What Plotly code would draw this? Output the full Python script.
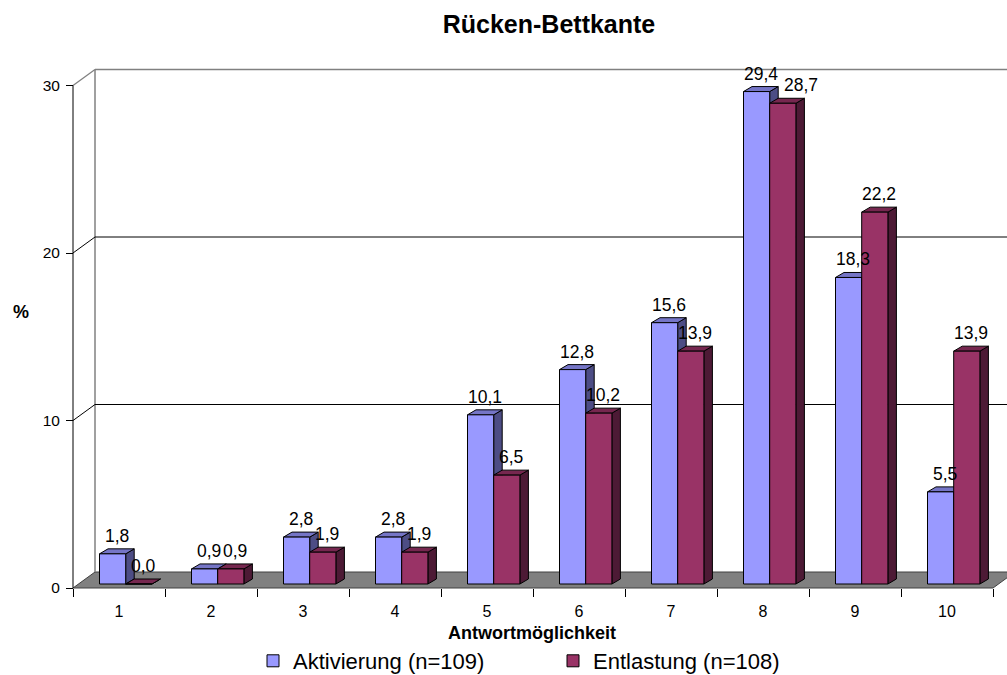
import plotly.graph_objects as go

# ---------------- data ----------------
categories = ["1", "2", "3", "4", "5", "6", "7", "8", "9", "10"]
aktivierung = [1.8, 0.9, 2.8, 2.8, 10.1, 12.8, 15.6, 29.4, 18.3, 5.5]
entlastung = [0.0, 0.9, 1.9, 1.9, 6.5, 10.2, 13.9, 28.7, 22.2, 13.9]
series_names = ["Aktivierung (n=109)", "Entlastung (n=108)"]
y_ticks = [0, 10, 20, 30]
chart_title = "Rücken-Bettkante"
x_title = "Antwortmöglichkeit"
y_title = "%"

# ---------------- styling / geometry ----------------
FONT = "Liberation Sans, Arial, sans-serif"
W, H = 1007, 675
ML, MR, MT, MB = 70, 0, 60, 79
PX_CAT = 92.0        # pixels per category
PX_UNIT = 16.75      # pixels per y unit
plot_w = W - ML - MR
plot_h = H - MT - MB
x0 = -0.5 - 3 / PX_CAT
x_range = [x0, x0 + plot_w / PX_CAT]
y_range = [-8 / PX_UNIT, -8 / PX_UNIT + plot_h / PX_UNIT]


def ux(p):
    return p / PX_CAT


def uy(p):
    return p / PX_UNIT


bar_w = ux(26.2)
offsets = [ux(-19.5), ux(-19.5) + bar_w]
base = uy(4)
ddx, ddy = ux(8.5), uy(5)
wdx, wdy = ux(22), uy(16)

front_col = ["#9999FF", "#993366"]
top_col = ["#7575C6", "#76274F"]
side_col = ["#4D4D85", "#4D1A35"]

series = [aktivierung, entlastung]

fig = go.Figure()
for k in range(2):
    fig.add_trace(go.Bar(
        x=categories, y=series[k], base=base, width=bar_w, offset=offsets[k],
        name=series_names[k],
        marker=dict(color=front_col[k], line=dict(color="black", width=1)),
        hoverinfo="skip",
    ))

shapes = []
n = len(categories)
xl_floor, xr_floor = -0.5, n - 0.5
# floor
shapes.append(dict(
    type="path", layer="below", xref="x", yref="y",
    path=f"M {xl_floor},0 L {xr_floor},0 L {xr_floor + wdx},{wdy} L {xl_floor + wdx},{wdy} Z",
    fillcolor="#808080", line=dict(color="#404040", width=1)))
# back wall edges and gridlines
xb = xl_floor + wdx
top_v = y_ticks[-1]
shapes.append(dict(type="line", layer="below", xref="x", yref="y",
                   x0=xb, y0=wdy, x1=xb, y1=top_v + wdy,
                   line=dict(color="#808080", width=1.5)))
shapes.append(dict(type="line", layer="below", xref="x", yref="y",
                   x0=xb, y0=top_v + wdy, x1=x_range[1], y1=top_v + wdy,
                   line=dict(color="#808080", width=1.5)))
shapes.append(dict(type="line", layer="below", xref="x", yref="y",
                   x0=xl_floor, y0=top_v, x1=xb, y1=top_v + wdy,
                   line=dict(color="#808080", width=1.2)))
for v in y_ticks[1:-1]:
    shapes.append(dict(type="line", layer="below", xref="x", yref="y",
                       x0=xb, y0=v + wdy, x1=x_range[1], y1=v + wdy,
                       line=dict(color="black", width=1)))
    shapes.append(dict(type="line", layer="below", xref="x", yref="y",
                       x0=xl_floor, y0=v, x1=xb, y1=v + wdy,
                       line=dict(color="black", width=1)))

# 3-D faces of bars
for i in range(n):
    for k in range(2):
        v = series[k][i]
        xl = i + offsets[k]
        xr = xl + bar_w
        t = base + v
        # side face
        shapes.append(dict(
            type="path", layer="below", xref="x", yref="y",
            path=f"M {xr},{base} L {xr},{t} L {xr + ddx},{t + ddy} L {xr + ddx},{base + ddy} Z",
            fillcolor=side_col[k], line=dict(color="black", width=1)))
        # top face
        shapes.append(dict(
            type="path", layer="below", xref="x", yref="y",
            path=f"M {xl},{t} L {xr},{t} L {xr + ddx},{t + ddy} L {xl + ddx},{t + ddy} Z",
            fillcolor=top_col[k], line=dict(color="black", width=1)))

# front y axis line
shapes.append(dict(type="line", layer="above", xref="x", yref="y",
                   x0=xl_floor, y0=0, x1=xl_floor, y1=top_v,
                   line=dict(color="black", width=1)))

# value labels (red label nudged right when it would collide with the blue one)
annotations = []
for i in range(n):
    gap_px = abs(series[0][i] - series[1][i]) * PX_UNIT
    for k in range(2):
        v = series[k][i]
        xs = 14 if (k == 1 and gap_px < 16 and v > 3) else 0
        annotations.append(dict(
            x=i + offsets[k] + bar_w / 2 + ddx / 2, y=base + v,
            xref="x", yref="y", text=f"{v:.1f}".replace(".", ","),
            showarrow=False, yanchor="middle", yshift=18, xshift=xs,
            font=dict(family=FONT, size=17.5, color="black")))

annotations.append(dict(
    x=(532 - ML) / plot_w, y=(596 - 633) / plot_h, xref="paper", yref="paper",
    text=x_title, showarrow=False, xanchor="center", yanchor="middle",
    font=dict(family=FONT, size=18, color="black", weight="bold")))
annotations.append(dict(
    x=(21 - ML) / plot_w, y=(596 - 312) / plot_h, xref="paper", yref="paper",
    text=y_title, showarrow=False, xanchor="center", yanchor="middle",
    font=dict(family=FONT, size=18, color="black", weight="bold")))

fig.update_layout(
    width=W, height=H,
    margin=dict(l=ML, r=MR, t=MT, b=MB, pad=0, autoexpand=False),
    paper_bgcolor="white", plot_bgcolor="white",
    barmode="overlay",
    font=dict(family=FONT, size=15, color="black"),
    title=dict(text=chart_title, x=549 / W, xanchor="center",
               y=1 - 24 / H, yanchor="middle",
               font=dict(family=FONT, size=25, color="black", weight="bold")),
    xaxis=dict(type="category", range=x_range, tickson="boundaries",
               ticks="outside", ticklen=8, tickcolor="black", tickwidth=1,
               showline=False, showgrid=False, zeroline=False,
               anchor="free", position=8 / plot_h, automargin=False,
               tickfont=dict(family=FONT, size=16, color="black"),
               ticklabelstandoff=12),
    yaxis=dict(range=y_range, tickvals=y_ticks, ticks="outside", ticklen=7,
               tickcolor="black", tickwidth=1, showline=False, showgrid=False,
               zeroline=False, anchor="free", position=3 / plot_w,
               automargin=False, ticklabelstandoff=3,
               tickfont=dict(family=FONT, size=15.5, color="black")),
    legend=dict(orientation="h", x=(253 - ML) / plot_w, xanchor="left",
                y=(596 - 661) / plot_h, yanchor="middle",
                font=dict(family=FONT, size=22, color="black"),
                itemwidth=30, entrywidth=255, entrywidthmode="pixels",
                bgcolor="rgba(0,0,0,0)"),
    shapes=shapes, annotations=annotations,
    showlegend=True,
)

fig.write_html("out.html", config={"displayModeBar": False},
               post_script="document.body.style.margin='0';"
                           "document.body.style.overflow='hidden';")
